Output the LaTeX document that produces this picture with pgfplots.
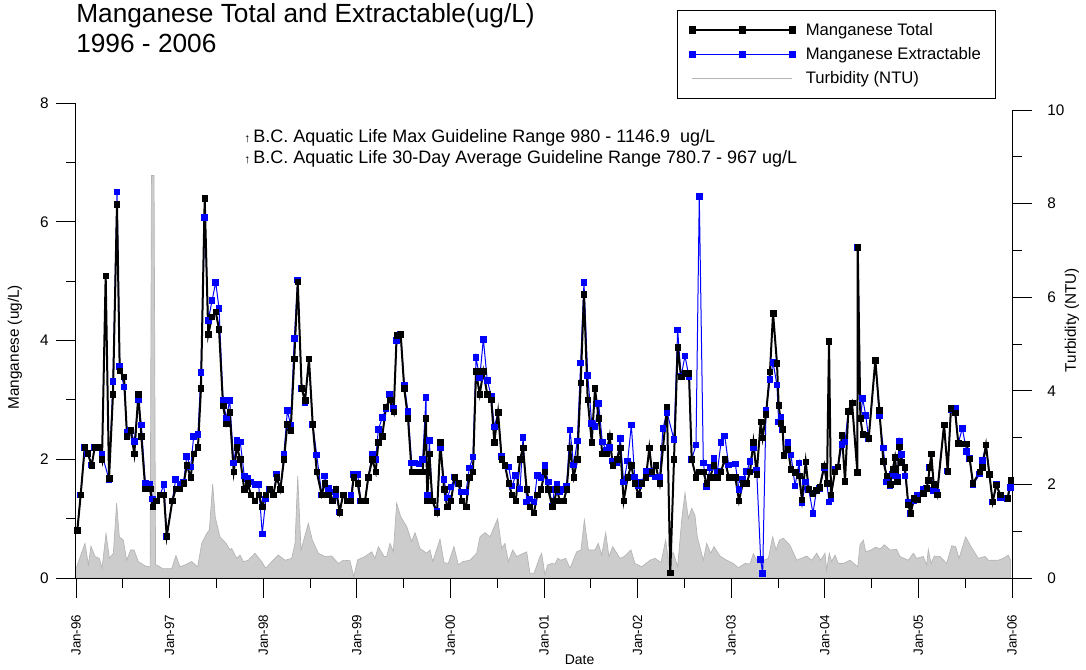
\documentclass[border=0pt]{standalone}
\usepackage{pgfplots}
\pgfplotsset{compat=1.18}
\usepackage{pgfplotstable}
\usepackage{fontspec}
\setmainfont{Liberation Sans}
\definecolor{turbfill}{RGB}{204,204,204}
\definecolor{turbline}{RGB}{180,180,180}
\pgfplotsset{
  legmark/.style={legend image code/.code={%
    \draw[##1,mark=none] (0pt,0pt) -- (75pt,0pt);
    \draw[##1,only marks] plot coordinates {(0pt,0pt) (37.5pt,0pt) (75pt,0pt)};}},
  legline/.style={legend image code/.code={\draw[##1] (0pt,0pt) -- (75pt,0pt);}}
}
\pgfplotstableread{
x y
1996.014 0.80
1996.050 1.40
1996.093 2.20
1996.125 2.10
1996.168 1.90
1996.200 2.20
1996.249 2.20
1996.278 2.00
1996.317 5.09
1996.353 1.68
1996.395 3.09
1996.438 6.29
1996.467 3.49
1996.513 3.39
1996.545 2.39
1996.584 2.49
1996.623 2.09
1996.666 3.09
1996.698 2.39
1996.740 1.50
1996.791 1.50
1996.819 1.20
1996.858 1.30
1996.897 1.40
1996.940 1.40
1996.969 0.70
1997.029 1.30
1997.065 1.50
1997.111 1.50
1997.151 1.59
1997.183 1.90
1997.225 1.70
1997.257 2.09
1997.303 2.20
1997.335 3.19
1997.375 6.39
1997.413 4.10
1997.453 4.40
1997.493 4.48
1997.528 4.19
1997.571 2.90
1997.606 2.60
1997.642 2.79
1997.685 1.79
1997.720 2.20
1997.755 2.00
1997.798 1.49
1997.834 1.59
1997.870 1.40
1997.912 1.30
1997.952 1.40
1997.990 1.20
1998.027 1.40
1998.069 1.49
1998.108 1.40
1998.144 1.70
1998.183 1.49
1998.222 2.00
1998.258 2.59
1998.294 2.49
1998.332 3.69
1998.369 4.99
1998.411 3.19
1998.447 2.99
1998.489 3.69
1998.529 2.59
1998.572 1.79
1998.625 1.40
1998.657 1.59
1998.696 1.40
1998.738 1.30
1998.778 1.49
1998.817 1.11
1998.853 1.40
1998.895 1.30
1998.938 1.30
1998.967 1.70
1999.010 1.59
1999.042 1.30
1999.088 1.30
1999.123 1.70
1999.166 2.00
1999.202 1.79
1999.230 2.29
1999.272 2.39
1999.312 2.88
1999.351 3.00
1999.394 2.80
1999.426 4.09
1999.469 4.10
1999.507 3.19
1999.547 2.69
1999.586 1.79
1999.622 1.79
1999.665 1.79
1999.704 1.79
1999.739 2.69
1999.753 1.30
1999.775 2.09
1999.807 1.30
1999.857 1.10
1999.892 2.29
1999.932 1.49
1999.967 1.20
2000.006 1.30
2000.046 1.70
2000.089 1.59
2000.121 1.30
2000.167 1.20
2000.202 1.70
2000.241 1.79
2000.274 3.48
2000.313 3.09
2000.352 3.48
2000.394 3.09
2000.437 3.00
2000.469 2.29
2000.509 2.79
2000.548 2.00
2000.583 1.90
2000.623 1.59
2000.658 1.40
2000.698 1.30
2000.744 2.00
2000.776 2.19
2000.815 1.49
2000.850 1.20
2000.893 1.10
2000.928 1.40
2000.967 1.49
2001.010 1.79
2001.045 1.49
2001.089 1.20
2001.110 1.30
2001.139 1.49
2001.168 1.30
2001.210 1.30
2001.242 1.49
2001.278 2.19
2001.317 1.70
2001.356 2.00
2001.392 3.29
2001.427 4.78
2001.467 3.00
2001.510 2.29
2001.545 3.19
2001.584 2.69
2001.623 2.09
2001.666 2.09
2001.702 2.39
2001.734 1.90
2001.777 2.00
2001.815 2.19
2001.851 1.30
2001.894 1.70
2001.933 1.90
2001.969 1.59
2002.012 1.40
2002.044 1.59
2002.090 1.70
2002.125 2.19
2002.154 1.79
2002.193 1.90
2002.236 1.59
2002.271 2.19
2002.314 2.88
2002.349 0.09
2002.389 2.00
2002.428 3.89
2002.464 3.39
2002.506 3.45
2002.549 3.45
2002.578 2.00
2002.624 1.70
2002.659 1.79
2002.702 1.79
2002.738 1.59
2002.774 1.70
2002.816 1.90
2002.852 1.70
2002.891 1.79
2002.931 2.00
2002.973 1.70
2003.044 1.70
2003.083 1.30
2003.123 1.59
2003.166 1.59
2003.201 1.79
2003.237 2.29
2003.272 1.75
2003.315 2.63
2003.336 2.36
2003.372 2.76
2003.414 3.47
2003.447 4.46
2003.489 3.62
2003.507 2.91
2003.532 2.61
2003.550 2.50
2003.564 2.07
2003.607 2.17
2003.639 1.83
2003.682 1.78
2003.725 1.72
2003.756 1.32
2003.796 1.96
2003.828 1.49
2003.874 1.43
2003.911 1.48
2003.945 1.53
2003.994 1.89
2004.023 1.59
2004.045 3.99
2004.066 1.40
2004.109 1.79
2004.141 1.87
2004.184 2.40
2004.216 1.63
2004.251 2.81
2004.291 2.95
2004.348 1.78
2004.352 5.57
2004.380 2.69
2004.405 2.42
2004.437 2.41
2004.469 2.35
2004.540 3.67
2004.583 2.82
2004.625 1.97
2004.661 1.72
2004.697 1.58
2004.726 1.83
2004.750 2.03
2004.775 1.62
2004.796 2.21
2004.822 1.95
2004.857 1.86
2004.892 1.23
2004.917 1.09
2004.953 1.34
2004.988 1.32
2005.052 1.43
2005.088 1.51
2005.106 1.65
2005.120 1.86
2005.138 2.09
2005.163 1.58
2005.199 1.40
2005.274 2.58
2005.313 1.80
2005.348 2.86
2005.394 2.78
2005.426 2.27
2005.469 2.26
2005.516 2.26
2005.548 2.01
2005.583 1.59
2005.655 1.79
2005.683 1.86
2005.722 2.24
2005.758 1.75
2005.794 1.28
2005.832 1.57
2005.875 1.40
2005.954 1.34
2005.986 1.65
}\total
\pgfplotstableread{
x y
1996.014 0.80
1996.050 1.40
1996.093 2.20
1996.125 2.10
1996.168 1.90
1996.200 2.20
1996.249 2.20
1996.278 2.08
1996.353 1.66
1996.395 3.31
1996.438 6.50
1996.467 3.56
1996.513 3.22
1996.545 2.46
1996.584 2.49
1996.623 2.30
1996.666 3.00
1996.698 2.58
1996.740 1.59
1996.791 1.57
1996.819 1.33
1996.858 1.30
1996.897 1.40
1996.940 1.57
1996.969 0.70
1997.029 1.30
1997.065 1.66
1997.111 1.57
1997.151 1.62
1997.183 2.05
1997.225 1.87
1997.257 2.38
1997.303 2.42
1997.335 3.46
1997.375 6.07
1997.413 4.34
1997.453 4.67
1997.493 4.98
1997.528 4.54
1997.571 2.99
1997.606 2.69
1997.642 2.99
1997.685 1.94
1997.720 2.32
1997.755 2.29
1997.798 1.72
1997.834 1.68
1997.870 1.62
1997.912 1.57
1997.952 1.57
1997.990 0.74
1998.027 1.33
1998.069 1.49
1998.108 1.40
1998.144 1.75
1998.183 1.49
1998.222 2.09
1998.258 2.82
1998.294 2.57
1998.332 4.03
1998.369 5.02
1998.411 3.19
1998.447 2.96
1998.489 3.69
1998.529 2.59
1998.572 2.07
1998.625 1.40
1998.657 1.72
1998.696 1.51
1998.738 1.45
1998.778 1.40
1998.817 1.11
1998.853 1.40
1998.895 1.30
1998.938 1.40
1998.967 1.74
1999.010 1.74
1999.042 1.30
1999.088 1.30
1999.123 1.70
1999.166 2.09
1999.202 2.00
1999.230 2.50
1999.272 2.70
1999.312 2.85
1999.351 3.09
1999.394 2.85
1999.426 4.00
1999.469 4.10
1999.507 3.25
1999.547 2.80
1999.586 1.94
1999.622 1.94
1999.665 1.92
1999.704 2.00
1999.739 3.04
1999.753 1.40
1999.775 2.32
1999.807 1.30
1999.857 1.13
1999.892 2.19
1999.932 1.66
1999.967 1.35
2000.006 1.53
2000.046 1.70
2000.089 1.59
2000.121 1.45
2000.167 1.45
2000.202 1.85
2000.241 2.04
2000.274 3.71
2000.313 3.37
2000.352 4.02
2000.394 3.33
2000.437 3.06
2000.469 2.54
2000.509 2.79
2000.548 2.05
2000.583 1.90
2000.623 1.87
2000.658 1.55
2000.698 1.73
2000.744 1.50
2000.776 2.37
2000.815 1.28
2000.850 1.33
2000.893 1.28
2000.928 1.73
2000.967 1.69
2001.010 1.89
2001.045 1.62
2001.089 1.20
2001.110 1.49
2001.139 1.57
2001.168 1.45
2001.210 1.49
2001.242 1.55
2001.278 2.49
2001.317 1.90
2001.356 2.31
2001.392 3.62
2001.427 4.98
2001.467 3.41
2001.510 2.60
2001.545 2.55
2001.584 2.94
2001.623 2.29
2001.666 2.15
2001.702 2.20
2001.734 1.97
2001.777 1.95
2001.815 2.35
2001.851 1.62
2001.894 1.97
2001.933 2.58
2001.969 1.70
2002.012 1.55
2002.044 1.62
2002.090 1.80
2002.125 1.75
2002.154 1.79
2002.193 1.70
2002.236 1.70
2002.271 2.52
2002.314 2.79
2002.389 2.33
2002.428 4.18
2002.464 3.39
2002.506 3.74
2002.549 3.39
2002.578 2.00
2002.624 2.24
2002.659 6.43
2002.702 1.94
2002.738 1.54
2002.774 1.86
2002.816 2.01
2002.852 1.79
2002.891 2.28
2002.931 2.39
2002.973 1.90
2003.044 1.92
2003.083 1.49
2003.123 1.66
2003.166 1.79
2003.201 1.96
2003.237 2.20
2003.272 1.82
2003.315 0.31
2003.336 0.08
2003.372 2.83
2003.414 3.34
2003.447 3.63
2003.489 3.25
2003.507 2.63
2003.532 2.70
2003.550 2.50
2003.564 2.07
2003.607 2.28
2003.639 2.07
2003.682 1.55
2003.725 1.94
2003.756 1.27
2003.796 1.62
2003.828 1.49
2003.874 1.09
2003.911 1.48
2003.945 1.51
2003.994 1.85
2004.023 1.59
2004.045 1.28
2004.066 1.33
2004.109 1.83
2004.141 1.87
2004.184 2.25
2004.216 2.29
2004.251 2.81
2004.291 2.95
2004.348 1.78
2004.352 5.57
2004.380 2.69
2004.405 3.02
2004.437 2.74
2004.469 2.35
2004.540 3.67
2004.583 2.73
2004.625 2.19
2004.661 1.62
2004.697 1.55
2004.726 1.75
2004.750 1.72
2004.775 1.70
2004.796 2.31
2004.822 2.08
2004.857 1.72
2004.892 1.28
2004.917 1.09
2004.953 1.30
2004.988 1.40
2005.052 1.50
2005.088 1.51
2005.106 1.65
2005.120 1.86
2005.138 2.09
2005.163 1.47
2005.199 1.45
2005.274 2.58
2005.313 1.80
2005.348 2.84
2005.394 2.86
2005.426 2.27
2005.469 2.52
2005.516 2.13
2005.548 2.01
2005.583 1.57
2005.655 1.75
2005.683 1.98
2005.722 2.24
2005.758 1.75
2005.794 1.28
2005.832 1.57
2005.875 1.35
2005.954 1.34
2005.986 1.52
}\extract
\pgfplotstableread{
x y
1996.007 0.24
1996.096 0.74
1996.132 0.28
1996.160 0.68
1996.203 0.46
1996.249 0.42
1996.278 0.21
1996.321 0.95
1996.357 0.42
1996.399 0.53
1996.434 1.60
1996.463 0.88
1996.506 0.81
1996.541 0.38
1996.584 0.60
1996.620 0.60
1996.666 0.35
1996.737 0.26
1996.780 0.24
1996.792 0.24
1996.806 8.60
1996.834 8.60
1996.850 0.28
1996.862 0.28
1996.926 0.20
1996.986 0.20
1997.022 0.20
1997.068 0.48
1997.111 0.24
1997.165 0.28
1997.236 0.35
1997.300 0.24
1997.343 0.74
1997.396 0.95
1997.425 1.03
1997.460 2.01
1997.488 1.30
1997.538 0.88
1997.603 0.74
1997.645 0.60
1997.663 0.63
1997.717 0.42
1997.752 0.49
1997.788 0.35
1997.841 0.38
1997.912 0.53
1997.984 0.35
1998.027 0.21
1998.091 0.35
1998.162 0.49
1998.233 0.38
1998.304 0.42
1998.340 0.74
1998.369 2.18
1998.404 0.60
1998.482 1.17
1998.525 0.81
1998.589 0.53
1998.660 0.46
1998.732 0.47
1998.803 0.31
1998.856 0.38
1998.927 0.37
1998.967 0.03
1999.010 0.39
1999.088 0.46
1999.159 0.56
1999.194 0.42
1999.230 0.67
1999.291 0.46
1999.319 0.46
1999.355 0.74
1999.390 0.56
1999.426 1.60
1999.469 1.31
1999.533 1.10
1999.586 0.78
1999.622 0.97
1999.675 0.63
1999.747 0.53
1999.782 0.60
1999.811 0.35
1999.889 0.83
1999.932 0.33
1999.978 0.31
2000.038 0.67
2000.085 0.28
2000.131 0.35
2000.209 0.38
2000.281 0.53
2000.316 0.88
2000.370 0.97
2000.423 0.88
2000.505 1.27
2000.548 0.63
2000.583 0.74
2000.619 0.35
2000.666 0.60
2000.708 0.46
2000.815 0.56
2000.850 0.10
2000.893 0.10
2000.957 0.46
2000.975 0.53
2001.010 0.07
2001.039 0.28
2001.082 0.31
2001.118 0.30
2001.146 0.42
2001.182 0.38
2001.232 0.42
2001.278 0.21
2001.349 0.56
2001.395 0.60
2001.431 1.24
2001.474 0.60
2001.545 0.60
2001.580 0.74
2001.616 0.49
2001.659 0.97
2001.694 0.46
2001.734 0.67
2001.812 0.42
2001.858 0.46
2001.929 0.60
2001.972 0.31
2002.044 0.24
2002.133 0.38
2002.186 0.42
2002.250 0.33
2002.300 0.81
2002.335 0.28
2002.378 0.56
2002.428 0.24
2002.471 1.24
2002.506 1.82
2002.542 1.27
2002.578 1.49
2002.613 1.34
2002.638 0.88
2002.702 0.38
2002.738 0.74
2002.781 0.53
2002.816 0.67
2002.880 0.47
2002.952 0.38
2003.023 0.31
2003.076 0.22
2003.148 0.31
2003.201 0.30
2003.237 0.52
2003.272 0.38
2003.343 0.38
2003.397 0.42
2003.443 0.88
2003.479 0.60
2003.515 0.81
2003.557 0.85
2003.628 0.70
2003.700 0.38
2003.807 0.47
2003.860 0.38
2003.914 0.53
2003.956 0.38
2004.002 0.53
2004.020 0.17
2004.048 0.53
2004.073 0.35
2004.109 0.49
2004.144 0.31
2004.198 0.31
2004.269 0.38
2004.352 0.24
2004.376 0.71
2004.412 0.81
2004.437 0.56
2004.494 0.60
2004.544 0.66
2004.590 0.62
2004.636 0.71
2004.697 0.60
2004.768 0.61
2004.803 0.46
2004.892 0.38
2004.946 0.53
2004.982 0.42
2005.052 0.46
2005.088 0.28
2005.106 0.61
2005.135 0.31
2005.170 0.47
2005.231 0.46
2005.302 0.31
2005.356 0.69
2005.398 0.67
2005.434 0.42
2005.505 0.88
2005.562 0.67
2005.640 0.42
2005.712 0.46
2005.748 0.38
2005.853 0.38
2005.907 0.42
2005.960 0.49
2005.986 0.38
}\turb
\begin{document}
\begin{tikzpicture}[x=1pt,y=1pt]
\useasboundingbox (0,0) rectangle (814.5,-501.75);
% right axis: turbidity
\begin{axis}[
  at={(57pt,-433.5pt)}, anchor=south west, scale only axis,
  width=702pt, height=351pt,
  xmin=1996, xmax=2006, ymin=0, ymax=10,
  axis x line=none, axis y line*=right,
  axis line style={black, line width=0.75pt, -},
  ytick={0,2,4,6,8,10}, minor ytick={1,3,5,7,9},
  tick align=outside, major tick length=15pt, minor tick length=7.5pt,
  tick style={black, line width=0.6pt},
  /pgf/number format/assume math mode=true,
  y tick label style={font=\fontsize{11.5}{13}\selectfont},
  yticklabel shift=8pt,
  ylabel={Turbidity (NTU)},
  ylabel style={font=\fontsize{11.5}{13}\selectfont, at={(rel axis cs:1.064,0.551)}, anchor=center},
]
\addplot[fill=turbfill, draw=turbline, line width=0.5pt, mark=none] table {\turb} \closedcycle;
\end{axis}
% left axis: manganese
\begin{axis}[
  at={(57pt,-433.5pt)}, anchor=south west, scale only axis,
  width=702pt, height=356.25pt,
  xmin=1996, xmax=2006, ymin=0, ymax=8,
  axis x line*=bottom, axis y line*=left,
  axis line style={black, line width=0.75pt, -},
  xtick={1996,1997,...,2006},
  xticklabels={Jan-96,Jan-97,Jan-98,Jan-99,Jan-00,Jan-01,Jan-02,Jan-03,Jan-04,Jan-05,Jan-06},
  minor xtick={1996.5,1997.5,1998.5,1999.5,2000.5,2001.5,2002.5,2003.5,2004.5,2005.5},
  ytick={0,2,4,6,8}, minor ytick={1,3,5,7},
  tick align=outside, major tick length=15pt, minor tick length=7.5pt,
  tick style={black, line width=0.6pt},
  /pgf/number format/assume math mode=true,
  x tick label style={rotate=90, anchor=east, font=\fontsize{10}{12}\selectfont},
  xticklabel shift=9pt,
  y tick label style={font=\fontsize{11.5}{13}\selectfont},
  yticklabel shift=2pt,
  xlabel={Date},
  xlabel style={font=\fontsize{10.5}{12}\selectfont, at={(rel axis cs:0.538,-0.173)}, anchor=center},
  ylabel={Manganese (ug/L)},
  ylabel style={font=\fontsize{11.5}{13}\selectfont, at={(rel axis cs:-0.0652,0.486)}, anchor=center},
  legend style={at={(0.6421,1.1958)}, anchor=north west, draw=black, line width=0.75pt,
    fill=white, font=\fontsize{12.5}{15}\selectfont, inner xsep=9pt, inner ysep=7.5pt,
    row sep=3.5pt, column sep=6pt, cells={anchor=west}},
  clip=false,
]
\addlegendimage{legmark, black, line width=1.5pt, mark=square*, mark size=2.1pt}
\addlegendentry{Manganese Total}
\addlegendimage{legmark, blue, line width=0.75pt, mark=square*, mark size=2.1pt}
\addlegendentry{Manganese Extractable}
\addlegendimage{legline, turbline, line width=1pt}
\addlegendentry{Turbidity (NTU)}
\addplot[forget plot, blue, line width=0.75pt, mark=square*, mark size=2.1pt, mark options={fill=blue, draw=blue}] table {\extract};
\addplot[forget plot, black, line width=1.5pt, mark=square*, mark size=2.1pt, mark options={fill=black, line width=0.5pt}] table {\total};
\end{axis}
\node[anchor=base west, inner sep=0pt, font=\fontsize{19.7}{22}\selectfont] at (57pt,-17pt) {Manganese Total and Extractable(ug/L)};
\node[anchor=base west, inner sep=0pt, font=\fontsize{19.7}{22}\selectfont] at (57pt,-39.5pt) {1996 - 2006};
\node[anchor=base west, font=\fontsize{13.5}{15}\selectfont, inner sep=0pt] at (183pt,-106.5pt) {{\fontsize{9}{10}\selectfont ↑}\,B.C. Aquatic Life Max Guideline Range 980 - 1146.9\ \ ug/L};
\node[anchor=base west, font=\fontsize{13.5}{15}\selectfont, inner sep=0pt] at (183pt,-122.5pt) {{\fontsize{9}{10}\selectfont ↑}\,B.C. Aquatic Life 30-Day Average Guideline Range 780.7 - 967 ug/L};
\end{tikzpicture}
\end{document}
